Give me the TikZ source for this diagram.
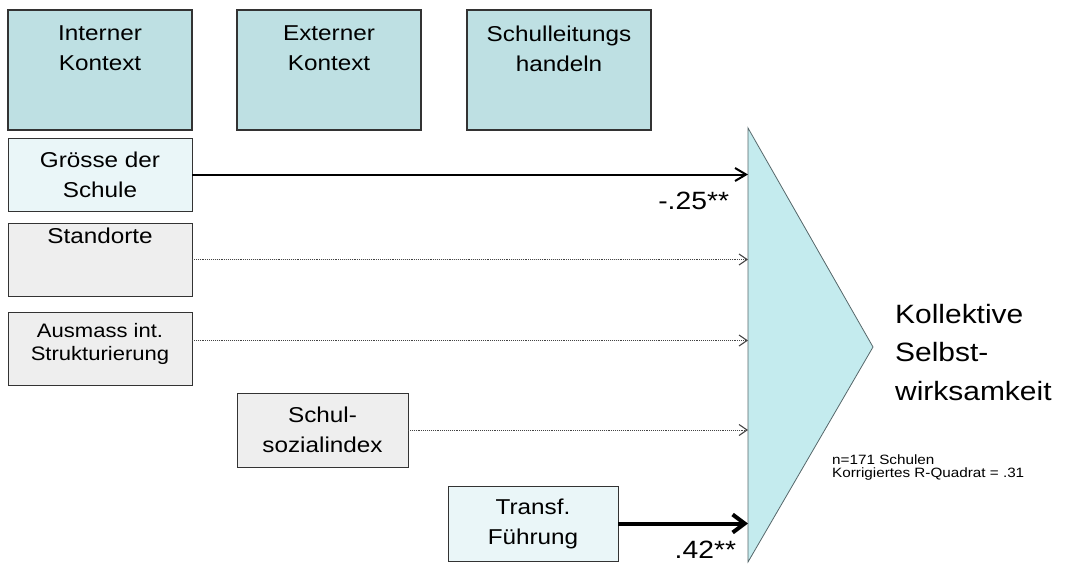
\documentclass[tikz,border=0pt]{standalone}
\usepackage{fontspec}
\setmainfont{Liberation Sans}[FakeStretch=1.13]
\usepackage{tikz}
\usetikzlibrary{arrows.meta,positioning,calc}
\definecolor{HeadFill}{HTML}{BEE0E3}
\definecolor{PaleFill}{HTML}{EAF6F8}
\definecolor{GreyFill}{HTML}{EEEEEE}
\definecolor{BoxLine}{HTML}{333333}
\definecolor{DotLine}{HTML}{444444}
\definecolor{TriFill}{HTML}{C4EBEE}
\definecolor{TriLine}{HTML}{56676A}

\begin{document}
\begin{tikzpicture}[x=1pt, y=1pt, node distance=8pt and 45pt,
  headbox/.style={draw=BoxLine, fill=HeadFill, line width=1.2pt, minimum width=184pt,
    minimum height=120pt, inner sep=0pt, outer sep=0pt},
  factorbox/.style={draw=BoxLine, line width=1pt, minimum width=184pt, minimum height=73pt,
    inner sep=0pt, outer sep=0pt, align=center, font=\fontsize{21.5}{30}\selectfont},
  palebox/.style={factorbox, fill=PaleFill},
  greybox/.style={factorbox, fill=GreyFill},
  boxtext/.style={inner sep=0pt, align=center, font=\fontsize{21.5}{30}\selectfont},
  strongpath/.style={-{Straight Barb[length=11pt, width=13pt]}, line width=2pt},
  nullpath/.style={-{Straight Barb[length=8pt, width=11pt, line width=1.1pt]}, densely dotted, line width=0.9pt, draw=DotLine},
  coef/.style={inner sep=0pt, anchor=north east, font=\fontsize{25}{25}\selectfont}]
  \useasboundingbox (0,0) rectangle (1069,-563);

  % header row
  \node[headbox] (intern) at (100,-70) {};
  \node[headbox, right=of intern] (extern) {};
  \node[headbox, right=46pt of extern] (leitung) {};
  \node[boxtext, below=16pt of intern.north] (interntxt) {Interner\\Kontext};
  \node[boxtext, below=16pt of extern.north] (externtxt) {Externer\\Kontext};
  \node[boxtext, below=16pt of leitung.north] (leitungtxt) {Schulleitungs\\handeln};

  % predictors
  \node[palebox, below=of intern] (groesse) {Grösse der\\Schule};
  \node[greybox, below=12pt of groesse] (standorte) {};
  \node[boxtext, below=5pt of standorte.north] (standtxt) {Standorte};
  \node[greybox, below=16pt of standorte] (ausmass) {};
  \node[boxtext, font=\fontsize{19.5}{23}\selectfont, below=11pt of ausmass.north] (ausmtxt) {Ausmass int.\\Strukturierung};
  \node[greybox, minimum width=171pt, minimum height=74pt, anchor=north west] (sozial)
    at ([yshift=-8pt]ausmass.south -| extern.west) {Schul-\\sozialindex};
  \node[palebox, minimum width=170pt, minimum height=75pt, below right=19pt and 40pt of sozial] (fuehrung) {Transf.\\Führung};

  % outcome
  \coordinate (tritop) at (748,-128);
  \coordinate (tritip) at (873,-347);
  \coordinate (tribot) at (748,-562);
  \draw[draw=TriLine, fill=TriFill, line width=0.8pt] (tritop) -- (tritip) -- (tribot) -- cycle;
  \node[anchor=north west, inner sep=0pt, align=left, font=\fontsize{26.5}{38.5}\selectfont] (outcome)
    at (895,-304) {Kollektive\\Selbst-\\wirksamkeit};
  \node[anchor=north west, inner sep=0pt, align=left, font=\fontsize{13.5}{13}\selectfont] (samplenote)
    at (832,-455) {n=171 Schulen\\Korrigiertes R-Quadrat = .31};

  % paths
  \draw[strongpath] (groesse.east) -- (groesse.east -| tritop)
    node[coef, xshift=-18pt, yshift=-17pt] (coefgroesse) {-.25**};
  \draw[nullpath] (standorte.east) -- (standorte.east -| tritop);
  \draw[nullpath] ([yshift=8pt]ausmass.east) -- ([yshift=8pt]ausmass.east -| tritop);
  \draw[nullpath] (sozial.east) -- (sozial.east -| tritop);
  \draw[strongpath, line width=4pt, -{Straight Barb[length=12pt, width=18pt]}] (fuehrung.east) -- (fuehrung.east -| tritop)
    node[coef, xshift=-10pt, yshift=-16pt] (coeffuehrung) {.42**};
\end{tikzpicture}
\end{document}
